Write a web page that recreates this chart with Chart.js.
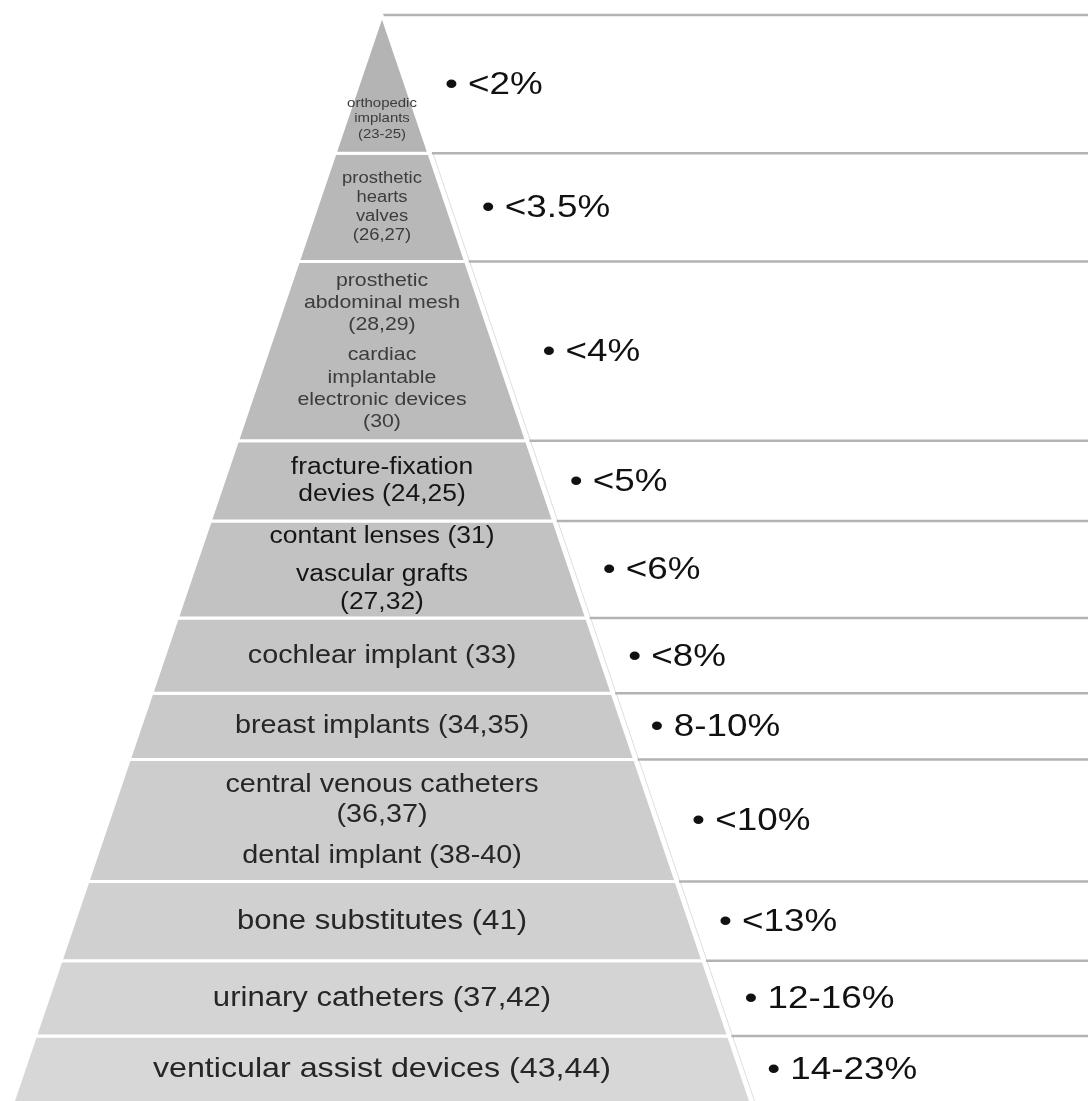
<!DOCTYPE html>
<html>
<head>
<meta charset="utf-8">
<script src="https://cdn.jsdelivr.net/npm/chart.js@4.4.1/dist/chart.umd.min.js"></script>
<style>
  html, body { margin: 0; padding: 0; background: #fff; }
  #wrap { width: 1088px; height: 1101px; }
</style>
</head>
<body>
<div id="wrap"><canvas id="piramide" width="1088" height="1101"></canvas></div>
<script>
// device groups per layer, top to bottom (each inner array is one text block)
const deviceLabels = [
  [['orthopedic', 'implants', '(23-25)']],
  [['prosthetic', 'hearts', 'valves', '(26,27)']],
  [['prosthetic', 'abdominal mesh', '(28,29)'], ['cardiac', 'implantable', 'electronic devices', '(30)']],
  [['fracture-fixation', 'devies (24,25)']],
  [['contant lenses (31)'], ['vascular grafts', '(27,32)']],
  [['cochlear implant (33)']],
  [['breast implants (34,35)']],
  [['central venous catheters', '(36,37)'], ['dental implant (38-40)']],
  [['bone substitutes (41)']],
  [['urinary catheters (37,42)']],
  [['venticular assist devices (43,44)']]
];

// infection rates shown at the right of each layer
const infectionRates = ['<2%', '<3.5%', '<4%', '<5%', '<6%', '<8%', '8-10%', '<10%', '<13%', '12-16%', '14-23%'];

// relative height of each layer
const layerHeights = [138, 108, 179, 80, 97, 75, 66, 122, 79, 75, 67];

// layout
const TOP_MARGIN = 15;
const CENTER_X = 382;
const CANVAS_W = 1088;
const SLOPE = 0.34;
const STRETCH = 1.15;
const labelSizes = [13, 16, 18.5, 23, 23, 25, 25, 25, 27, 27, 28];
const labelColors = ['#3c3c3c', '#3c3c3c', '#3c3c3c', '#151515', '#151515', '#262626', '#262626', '#262626', '#262626', '#262626', '#262626'];

const total = layerHeights.reduce((a, b) => a + b, 0);
const halfWidth = y => SLOPE * y;

function boundaries() {
  const out = [0];
  layerHeights.forEach(h => out.push(out[out.length - 1] + h));
  return out;
}

function layerColor(i) {
  const v = Math.round(180 + (215 - 180) * i / (layerHeights.length - 1));
  return `rgb(${v}, ${v}, ${v})`;
}

function createDatasets() {
  const b = boundaries();
  const layers = layerHeights.map((h, i) => {
    const top = b[i], bottom = b[i + 1];
    return {
      label: 'layer ' + i,
      data: [
        { x: -halfWidth(top), y: top },
        { x: halfWidth(top), y: top },
        { x: halfWidth(bottom), y: bottom },
        { x: -halfWidth(bottom), y: bottom },
        { x: -halfWidth(top), y: top }
      ],
      showLine: true,
      fill: 'shape',
      backgroundColor: layerColor(i),
      borderColor: '#ffffff',
      borderWidth: 3,
      pointRadius: 0,
      tension: 0
    };
  });

  // grey rules from the pyramid edge to the right border
  const rules = b.slice(0, -1).map((y, i) => ({
    label: 'rule ' + i,
    data: [
      { x: halfWidth(y) + (i === 0 ? 1 : 3), y: y },
      { x: CANVAS_W - CENTER_X, y: y }
    ],
    showLine: true,
    fill: false,
    borderColor: '#b3b3b3',
    borderWidth: 2.5,
    pointRadius: 0
  }));

  const edge = {
    label: 'edge',
    data: [
      { x: halfWidth(b[1]) + 4, y: b[1] },
      { x: halfWidth(total) + 4, y: total }
    ],
    showLine: true,
    fill: false,
    borderColor: '#dedede',
    borderWidth: 1,
    pointRadius: 0
  };

  return [...layers, ...rules, edge];
}

function stretchedText(ctx, text, px, py) {
  ctx.save();
  ctx.translate(px, py);
  ctx.scale(STRETCH, 1);
  ctx.fillText(text, 0, 0);
  ctx.restore();
}

const pyramidText = {
  id: 'pyramidText',
  afterDatasetsDraw(chart) {
    const { ctx, scales: { x, y } } = chart;
    const b = boundaries();
    ctx.save();
    ctx.textBaseline = 'middle';

    deviceLabels.forEach((groups, i) => {
      const size = labelSizes[i];
      const lineH = size * 1.19;
      const gap = size * 0.46;
      const nLines = groups.reduce((n, g) => n + g.length, 0);
      const blockH = (nLines - 1) * lineH + (groups.length - 1) * gap;
      const topPx = y.getPixelForValue(b[i]);
      const botPx = y.getPixelForValue(b[i + 1]);
      let cy = i === 0 ? botPx - 19 - blockH : (topPx + botPx) / 2 - blockH / 2;

      ctx.font = `${size}px "Liberation Sans", Arial, sans-serif`;
      ctx.fillStyle = labelColors[i];
      ctx.textAlign = 'center';
      groups.forEach((g, gi) => {
        if (gi > 0) cy += gap;
        g.forEach(line => {
          stretchedText(ctx, line, x.getPixelForValue(0), cy);
          cy += lineH;
        });
      });
    });

    ctx.font = '32px "Liberation Sans", Arial, sans-serif';
    ctx.fillStyle = '#111111';
    ctx.textAlign = 'left';
    infectionRates.forEach((rate, i) => {
      const px = x.getPixelForValue(halfWidth(b[i + 1])) + 16;
      const py = (y.getPixelForValue(b[i]) + y.getPixelForValue(b[i + 1])) / 2 + 1;
      stretchedText(ctx, '\u2022 ' + rate, px, py);
    });
    ctx.restore();
  }
};

const canvas = document.getElementById('piramide');
new Chart(canvas.getContext('2d'), {
  type: 'scatter',
  data: { datasets: createDatasets() },
  options: {
    responsive: false,
    devicePixelRatio: 1,
    animation: false,
    layout: { padding: 0, autoPadding: false },
    plugins: {
      legend: { display: false },
      tooltip: { enabled: false },
      title: { display: false }
    },
    scales: {
      x: { type: 'linear', display: false, min: -CENTER_X, max: CANVAS_W - CENTER_X },
      // the base of the pyramid runs off the bottom edge
      y: { type: 'linear', display: false, min: -TOP_MARGIN, max: total - 2, reverse: true }
    }
  },
  plugins: [pyramidText]
});
console.log('pyramid drawn with', layerHeights.length, 'layers');
</script>
</body>
</html>
